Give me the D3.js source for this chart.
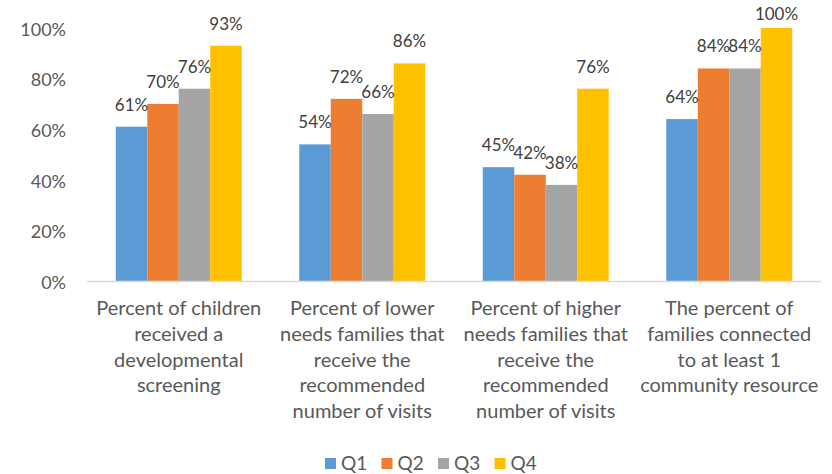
<!DOCTYPE html>
<html><head><meta charset="utf-8">
<script src="https://cdn.jsdelivr.net/npm/d3@7"></script>
<style>
html,body{margin:0;padding:0;background:#fff;}
svg text{font-family:Lato,"Open Sans",sans-serif;}
</style></head>
<body><svg id="chart" width="832" height="474"></svg>
<script>
const categories = [
  ["Percent of children","received a","developmental","screening"],
  ["Percent of lower","needs families that","receive the","recommended","number of visits"],
  ["Percent of higher","needs families that","receive the","recommended","number of visits"],
  ["The percent of","families connected","to at least 1","community resource"]
];
const seriesNames = ["Q1","Q2","Q3","Q4"];
const Q1 = [0.61, 0.54, 0.45, 0.64];
const Q2 = [0.70, 0.72, 0.42, 0.84];
const Q3 = [0.76, 0.66, 0.38, 0.84];
const Q4 = [0.93, 0.86, 0.76, 1.00];
const series = [Q1, Q2, Q3, Q4];
const colors = ["#5B9BD5","#ED7D31","#A5A5A5","#FFC000"];
const yTicks = [0, 0.2, 0.4, 0.6, 0.8, 1.0];

const svg = d3.select("#chart");
const mLeft = 87, mRight = 821, mTop = 28, mBottom = 281;

const x0 = d3.scaleBand().domain(d3.range(categories.length)).range([mLeft, mRight]).paddingInner(0.3134).paddingOuter(0.1567);
const x1 = d3.scaleBand().domain(seriesNames).range([0, x0.bandwidth()]);
const y = d3.scaleLinear().domain([0, 1]).range([mBottom, mTop]);
const fmt = d3.format(".0%");

// y axis labels
const yAxis = d3.axisLeft(y).tickValues(yTicks).tickFormat(fmt).tickSize(0).tickPadding(0);
const ya = svg.append("g").attr("transform", `translate(66,0)`).call(yAxis);
ya.select(".domain").remove();
ya.selectAll("text").attr("fill", "#595959").style("font-size", "18px").style("font-family", "Lato").attr("dy", "0.4em");

// bars
const groups = svg.append("g").selectAll("g").data(categories.map((c, i) => i)).join("g")
  .attr("transform", i => `translate(${x0(i)},0)`);
groups.selectAll("rect").data(i => series.map((s, k) => ({k, v: s[i]}))).join("rect")
  .attr("x", d => x1(seriesNames[d.k]))
  .attr("width", x1.bandwidth())
  .attr("y", d => y(d.v))
  .attr("height", d => y(0) - y(d.v))
  .attr("fill", d => colors[d.k]);

// data labels
groups.selectAll("text.lbl").data(i => series.map((s, k) => ({k, v: s[i]}))).join("text")
  .attr("class", "lbl")
  .attr("x", d => x1(seriesNames[d.k]) + x1.bandwidth() / 2)
  .attr("y", d => Math.max(20, y(d.v) - 16))
  .attr("text-anchor", "middle")
  .attr("fill", "#404040")
  .style("font-size", "17px")
  .text(d => fmt(d.v));

// x axis line
svg.append("line").attr("x1", mLeft).attr("x2", mRight).attr("y1", mBottom + 0.5).attr("y2", mBottom + 0.5)
  .attr("stroke", "#D9D9D9").attr("stroke-width", 1.5);

// category labels
const xAxis = d3.axisBottom(x0).tickSize(0).tickFormat("");
const xa = svg.append("g").attr("transform", `translate(0,${mBottom})`).call(xAxis);
xa.select(".domain").remove();
xa.selectAll(".tick").each(function(i) {
  const t = d3.select(this).append("text").attr("text-anchor", "middle").attr("fill", "#595959").style("font-size", "20px");
  categories[i].forEach((line, j) => {
    t.append("tspan").attr("x", 0).attr("y", 34 + j * 25.8).text(line);
  });
});

// legend
const legend = svg.append("g");
const lx = d3.scaleBand().domain(seriesNames).range([325, 551]);
seriesNames.forEach((n, k) => {
  const g = legend.append("g").attr("transform", `translate(${lx(n)},0)`);
  g.append("rect").attr("x", 0).attr("y", 458).attr("width", 11).attr("height", 11).attr("fill", colors[k]);
  g.append("text").attr("x", 16).attr("y", 470).attr("fill", "#595959").style("font-size", "19px").text(n);
});
</script></body></html>
